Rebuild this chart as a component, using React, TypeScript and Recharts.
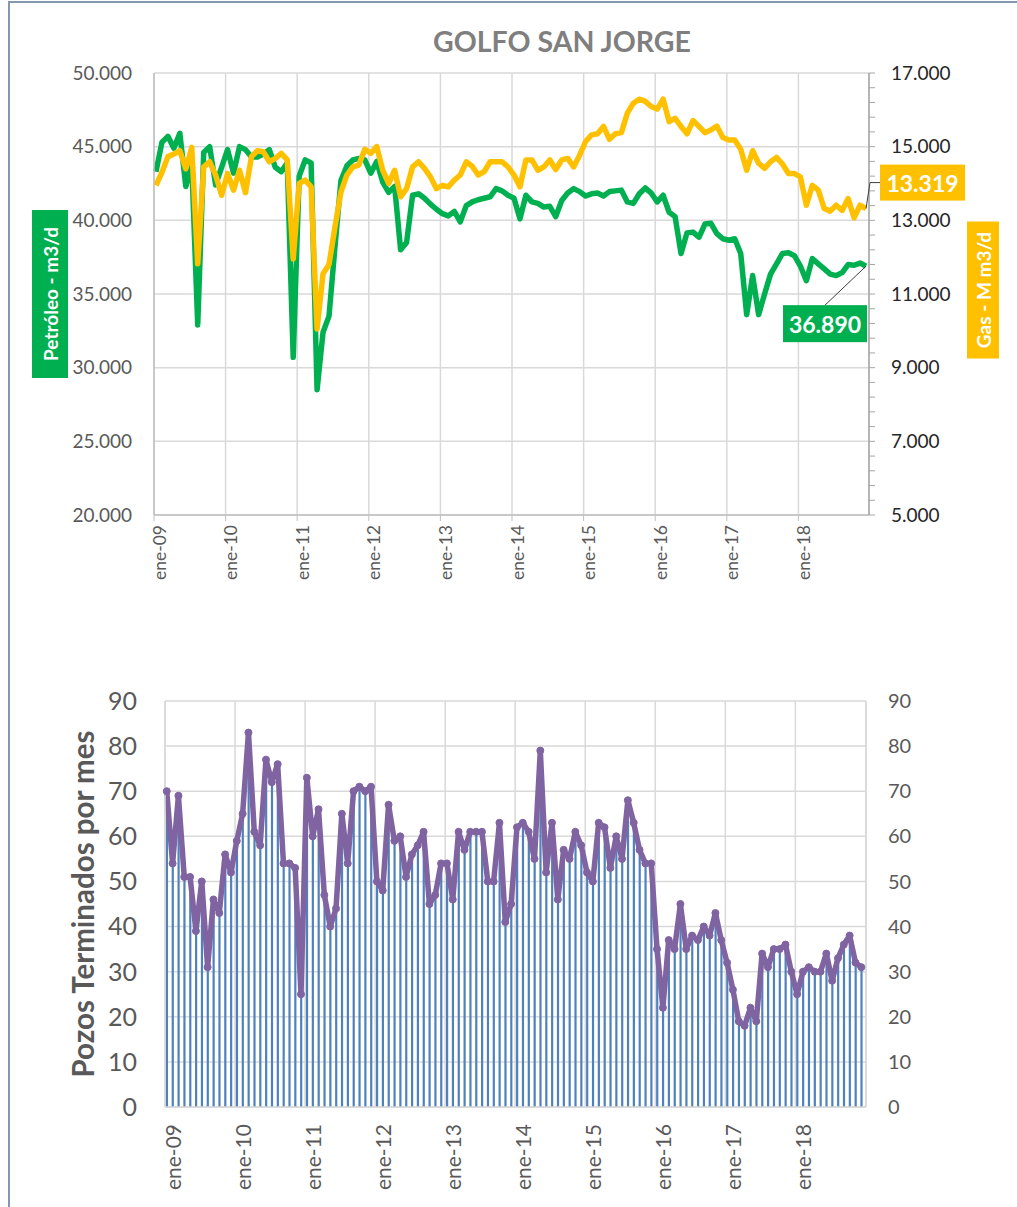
import React from "react";
import {
  Bar,
  CartesianGrid,
  ComposedChart,
  LabelList,
  Line,
  LineChart,
  XAxis,
  YAxis,
} from "recharts";

const FONT = "Lato, 'Open Sans', sans-serif";

// monthly series, ene-09 .. dic-18
const YEARS = ["09", "10", "11", "12", "13", "14", "15", "16", "17", "18"];
const MONTHS = Array.from({ length: 120 }, (_, i) => i);

// Petróleo - m3/d
const OIL = [
  43300, 45300, 45700, 44900, 45900, 42300, 43800, 32900, 44600, 45000,
  42400, 43600, 44800, 43200, 45000, 44800, 44300, 44300, 44500, 44800,
  43600, 43300, 43900, 30700, 43000, 44100, 43900, 28500, 32400, 33500,
  38200, 42700, 43700, 44100, 44200, 44100, 43200, 44000, 42600, 41900,
  42300, 38000, 38500, 41700, 41800, 41500, 41100, 40750, 40450, 40300,
  40600, 39900, 41000, 41250, 41400, 41500, 41600, 42150, 42000, 41700,
  41500, 40100, 41700, 41250, 41150, 40900, 40950, 40250, 41350, 41850,
  42150, 41950, 41650, 41800, 41850, 41650, 41950, 42000, 42050, 41250,
  41150, 41800, 42200, 41850, 41250, 41700, 40550, 40250, 37750, 39150,
  39200, 38850, 39750, 39800, 39100, 38750, 38650, 38750, 37750, 33600,
  36250, 33600, 35000, 36350, 37050, 37750, 37800, 37600, 36900, 35900,
  37400, 37050, 36700, 36350, 36250, 36450, 37000, 36950, 37100, 36890,
];

// Gas - M m3/d
const GAS = [
  13950, 14300, 14730, 14800, 14890, 14400, 14980, 11820, 14450, 14590,
  14230, 13680, 14270, 13820, 14360, 13750, 14730, 14890, 14860, 14590,
  14680, 14820, 14640, 11950, 14000, 14090, 13910, 10050, 11550, 11800,
  12820, 13770, 14230, 14450, 14500, 14930, 14820, 15000, 14360, 14000,
  14360, 13640, 13860, 14450, 14590, 14410, 14180, 13860, 13950, 13910,
  14090, 14230, 14590, 14470, 14230, 14320, 14590, 14590, 14590, 14450,
  14230, 13910, 14640, 14640, 14360, 14450, 14640, 14380, 14640, 14680,
  14450, 14770, 15140, 15320, 15350, 15550, 15200, 15350, 15380, 15910,
  16180, 16290, 16230, 16090, 16020, 16290, 15680, 15770, 15550, 15350,
  15710, 15550, 15380, 15450, 15560, 15250, 15180, 15180, 14930, 14360,
  14890, 14550, 14410, 14590, 14710, 14530, 14270, 14270, 14180, 13410,
  13950, 13820, 13320, 13250, 13410, 13270, 13590, 13070, 13410, 13319,
];

// Pozos terminados por mes
const WELLS = [
  70, 54, 69, 51, 51, 39, 50, 31, 46, 43,
  56, 52, 59, 65, 83, 61, 58, 77, 72, 76,
  54, 54, 53, 25, 73, 60, 66, 47, 40, 44,
  65, 54, 70, 71, 70, 71, 50, 48, 67, 59,
  60, 51, 56, 58, 61, 45, 47, 54, 54, 46,
  61, 57, 61, 61, 61, 50, 50, 63, 41, 45,
  62, 63, 61, 55, 79, 52, 63, 46, 57, 55,
  61, 58, 52, 50, 63, 62, 53, 60, 55, 68,
  63, 57, 54, 54, 35, 22, 37, 35, 45, 35,
  38, 37, 40, 38, 43, 37, 32, 26, 19, 18,
  22, 19, 34, 31, 35, 35, 36, 30, 25, 30,
  31, 30, 30, 34, 28, 33, 36, 38, 32, 31,
];

const OIL_TICKS = [20000, 25000, 30000, 35000, 40000, 45000, 50000];
const GAS_TICKS = Array.from({ length: 31 }, (_, k) => 5000 + k * 400);
const WELL_TICKS = [0, 10, 20, 30, 40, 50, 60, 70, 80, 90];

// the date axis starts a little before the first month
const TOP_X_START = -0.33;
const BOTTOM_X_START = -0.3;
const TOP_X_TICKS = YEARS.map((_, k) => k * 12 + TOP_X_START);
const BOTTOM_X_TICKS = YEARS.map((_, k) => k * 12 + BOTTOM_X_START);

const productionData = MONTHS.map((m, i) => ({ m, oil: OIL[i], gas: GAS[i] }));
const wellsData = MONTHS.map((m, i) => ({ m, wells: WELLS[i] }));

const GREEN = "#00b050";
const YELLOW = "#ffc000";
const PURPLE = "#8064a2";
const BLUE = "#4f81bd";
const GRID = "#d9d9d9";

const fmt = (v: number) => {
  const s = Math.round(v).toString();
  return s.length > 3 ? `${s.slice(0, -3)}.${s.slice(-3)}` : s;
};

function YearTick(props: any) {
  const { x, y, payload, size, shift } = props;
  const k = Math.round(payload.value / 12);
  const tx = x + shift;
  return (
    <text
      x={tx}
      y={y}
      transform={`rotate(-90 ${tx} ${y})`}
      textAnchor="end"
      dominantBaseline="central"
      fill="#595959"
      fontSize={size}
      fontFamily={FONT}
    >
      {`ene-${YEARS[k]}`}
    </text>
  );
}

function OilTag(props: any) {
  const { x, y, index, value } = props;
  if (index !== OIL.length - 1) return null;
  const bx = x - 83;
  const by = y + 39;
  return (
    <g>
      <line x1={x} y1={y} x2={x - 41} y2={by} stroke="#404040" strokeWidth={1} />
      <rect x={bx} y={by} width={84} height={37} fill={GREEN} />
      <text
        x={bx + 42}
        y={by + 19}
        textAnchor="middle"
        dominantBaseline="central"
        fill="#fff"
        fontSize={23}
        fontWeight={700}
        fontFamily={FONT}
      >
        {fmt(value)}
      </text>
    </g>
  );
}

function GasTag(props: any) {
  const { x, y, index, value } = props;
  if (index !== GAS.length - 1) return null;
  const bx = x + 14;
  const by = y - 44;
  return (
    <g>
      <polyline
        points={`${x},${y} ${x + 4},${by + 18} ${bx},${by + 18}`}
        fill="none"
        stroke="#404040"
        strokeWidth={1}
      />
      <rect x={bx} y={by} width={85} height={36} fill={YELLOW} />
      <text
        x={bx + 42.5}
        y={by + 18.5}
        textAnchor="middle"
        dominantBaseline="central"
        fill="#fff"
        fontSize={23}
        fontWeight={700}
        fontFamily={FONT}
      >
        {fmt(value)}
      </text>
    </g>
  );
}

function ProductionChart() {
  return (
    <LineChart
      width={1017}
      height={600}
      data={productionData}
      margin={{ top: 73, right: 68, bottom: 15, left: 74 }}
    >
      <CartesianGrid yAxisId="oil" stroke={GRID} strokeWidth={1.5} />
      <XAxis
        type="number"
        dataKey="m"
        domain={[TOP_X_START, 119.5]}
        ticks={TOP_X_TICKS}
        interval={0}
        height={70}
        tickSize={6}
        tickMargin={4}
        tickLine={{ stroke: "#bfbfbf" }}
        axisLine={{ stroke: "#bfbfbf", strokeWidth: 1.5 }}
        tick={<YearTick size={17.5} shift={5} />}
      />
      <YAxis
        yAxisId="oil"
        width={80}
        domain={[20000, 50000]}
        ticks={OIL_TICKS}
        interval={0}
        tickLine={false}
        tickSize={0}
        tickMargin={22}
        axisLine={{ stroke: "#bfbfbf", strokeWidth: 1.5 }}
        tick={{ fill: "#595959", fontSize: 19, fontFamily: FONT }}
        tickFormatter={fmt}
      />
      <YAxis
        yAxisId="gas"
        orientation="right"
        width={80}
        domain={[5000, 17000]}
        ticks={GAS_TICKS}
        interval={0}
        tickSize={6}
        tickMargin={16}
        tickLine={{ stroke: "#a6a6a6" }}
        axisLine={{ stroke: "#a6a6a6", strokeWidth: 1.5 }}
        tick={{ fill: "#262626", fontSize: 19, fontFamily: FONT }}
        tickFormatter={(v: number) => ((v - 5000) % 2000 === 0 ? fmt(v) : "")}
      />
      <Line
        yAxisId="oil"
        dataKey="oil"
        stroke={GREEN}
        strokeWidth={5.5}
        strokeLinejoin="round"
        dot={false}
        isAnimationActive={false}
      >
        <LabelList dataKey="oil" content={OilTag} />
      </Line>
      <Line
        yAxisId="gas"
        dataKey="gas"
        stroke={YELLOW}
        strokeWidth={5.5}
        strokeLinejoin="round"
        dot={false}
        isAnimationActive={false}
      >
        <LabelList dataKey="gas" content={GasTag} />
      </Line>
    </LineChart>
  );
}

function WellsChart() {
  return (
    <ComposedChart
      width={1017}
      height={607}
      data={wellsData}
      margin={{ top: 101, right: 71, bottom: 10, left: 85 }}
    >
      <CartesianGrid yAxisId="bars" stroke={GRID} strokeWidth={1.5} />
      <XAxis
        type="number"
        dataKey="m"
        domain={[BOTTOM_X_START, 119.8]}
        ticks={BOTTOM_X_TICKS}
        interval={0}
        height={90}
        tickLine={false}
        tickSize={0}
        tickMargin={17}
        axisLine={{ stroke: GRID, strokeWidth: 1.5 }}
        tick={<YearTick size={21} shift={7} />}
      />
      <YAxis
        yAxisId="bars"
        width={80}
        domain={[0, 90]}
        ticks={WELL_TICKS}
        interval={0}
        tickLine={false}
        tickSize={0}
        tickMargin={28}
        axisLine={{ stroke: GRID, strokeWidth: 1.5 }}
        tick={{ fill: "#595959", fontSize: 25, fontFamily: FONT }}
      />
      <YAxis
        yAxisId="line"
        orientation="right"
        width={80}
        domain={[0, 90]}
        ticks={WELL_TICKS}
        interval={0}
        tickLine={false}
        tickSize={0}
        tickMargin={22}
        axisLine={{ stroke: GRID, strokeWidth: 1.5 }}
        tick={{ fill: "#595959", fontSize: 20, fontFamily: FONT }}
      />
      <Bar
        yAxisId="bars"
        dataKey="wells"
        fill={BLUE}
        barSize={2.2}
        isAnimationActive={false}
      />
      <Line
        yAxisId="line"
        dataKey="wells"
        stroke={PURPLE}
        strokeWidth={5.5}
        strokeLinejoin="round"
        dot={{ r: 3.5, fill: PURPLE, stroke: PURPLE, strokeWidth: 1 }}
        isAnimationActive={false}
      />
    </ComposedChart>
  );
}

export default function App() {
  return (
    <div
      style={{
        position: "absolute",
        left: 0,
        top: 0,
        width: 1017,
        height: 1207,
        overflow: "hidden",
        background: "#fff",
        fontFamily: FONT,
      }}
    >
      <div
        style={{
          position: "absolute",
          left: 8,
          top: 1,
          right: -10,
          bottom: -10,
          borderLeft: "2px solid #8497b0",
          borderTop: "2px solid #8497b0",
        }}
      />
      <div
        style={{
          position: "absolute",
          left: 562,
          top: 41,
          transform: "translate(-50%, -50%)",
          fontSize: 28.5,
          fontWeight: 700,
          color: "#7f7f7f",
          whiteSpace: "nowrap",
        }}
      >
        GOLFO SAN JORGE
      </div>

      <div style={{ position: "absolute", left: 0, top: 0 }}>
        <ProductionChart />
      </div>

      <div
        style={{
          position: "absolute",
          left: 50,
          top: 294,
          width: 168,
          height: 36,
          transform: "translate(-50%, -50%) rotate(-90deg)",
          background: GREEN,
          color: "#fff",
          fontWeight: 700,
          fontSize: 19,
          display: "flex",
          alignItems: "center",
          justifyContent: "center",
          whiteSpace: "nowrap",
        }}
      >
        Petróleo - m3/d
      </div>
      <div
        style={{
          position: "absolute",
          left: 982.5,
          top: 290,
          width: 137,
          height: 32,
          transform: "translate(-50%, -50%) rotate(-90deg)",
          background: YELLOW,
          color: "#fff",
          fontWeight: 700,
          fontSize: 19,
          display: "flex",
          alignItems: "center",
          justifyContent: "center",
          whiteSpace: "nowrap",
        }}
      >
        Gas - M m3/d
      </div>

      <div style={{ position: "absolute", left: 0, top: 600 }}>
        <WellsChart />
      </div>

      <div
        style={{
          position: "absolute",
          left: 82,
          top: 904,
          transform: "translate(-50%, -50%) rotate(-90deg)",
          fontSize: 29.5,
          fontWeight: 700,
          color: "#595959",
          whiteSpace: "nowrap",
        }}
      >
        Pozos Terminados por mes
      </div>
    </div>
  );
}
